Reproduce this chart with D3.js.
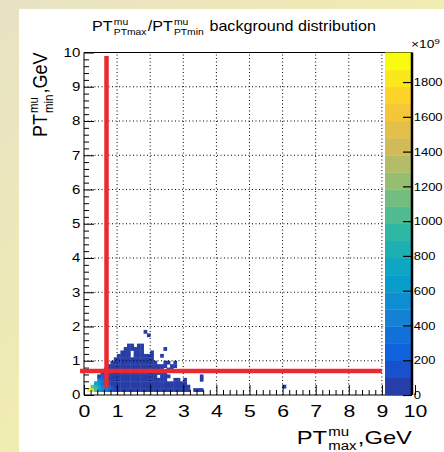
<!DOCTYPE html>
<html>
<head>
<meta charset="utf-8">
<script src="https://cdn.jsdelivr.net/npm/d3@7"></script>
<style>
  body { margin: 0; background: #fff; }
  svg { display: block; }
  text { font-family: "Liberation Sans", Arial, Helvetica, sans-serif; fill: #000; }
</style>
</head>
<body>
<svg id="chart" width="444" height="452"></svg>
<script>
// ---- data -------------------------------------------------------------
// pT bin width (GeV) on both axes
const binWidth = 0.1;
// axis tick values
const xTickValues = d3.range(0, 11);
const yTickValues = d3.range(0, 11);
const xMinorTicks = d3.range(0, 10.01, 0.2).filter(v => Math.abs(v - Math.round(v)) > 1e-6);
const yMinorTicks = xMinorTicks;
// colour scale (units of 10^9)
const zMax = 1970;
const zTickValues = d3.range(0, 1801, 200);
const nContours = 20;
// content of the sparsely filled tail cells (lowest contour)
const tailLevel = 25;
// filled cells: [pT_min bin, first pT_max bin, last pT_max bin]
const tailRuns = [
  [1, 1, 31], [1, 33, 35],
  [2, 2, 31], [2, 60, 60],
  [3, 3, 30],
  [4, 4, 24], [4, 27, 28], [4, 30, 30], [4, 35, 35],
  [5, 4, 21], [5, 23, 25], [5, 35, 35],
  [6, 5, 24],
  [7, 6, 23], [7, 25, 26],
  [8, 7, 24], [8, 26, 27],
  [9, 8, 21], [9, 24, 25], [9, 27, 27],
  [10, 9, 20],
  [11, 10, 13], [11, 15, 20], [11, 23, 23],
  [12, 11, 13], [12, 15, 17], [12, 20, 20],
  [13, 12, 17], [13, 24, 24],
  [14, 13, 14], [14, 16, 17],
  [17, 19, 19],
  [18, 18, 18]
];
// high-content cells near the origin: [pT_max bin, pT_min bin, content]
const peakCells = [
  [1, 1, 1970], [2, 1, 1750], [3, 1, 1050], [4, 1, 650], [5, 1, 420], [6, 1, 350], [7, 1, 200], [8, 1, 150],
  [2, 2, 1150], [3, 2, 950], [4, 2, 700], [5, 2, 450], [6, 2, 300], [7, 2, 200], [8, 2, 110],
  [3, 3, 750], [4, 3, 550], [5, 3, 350], [6, 3, 250], [7, 3, 150],
  [4, 4, 400], [5, 4, 300], [6, 4, 200],
  [5, 5, 200], [6, 5, 150]
];
// selection cuts (GeV)
const cutLines = [
  { x1: -0.12, y1: 0.70, x2: 9.0, y2: 0.70 },
  { x1: 0.68, y1: 0.23, x2: 0.68, y2: 9.9 }
];

// ---- kBird palette ----------------------------------------------------
const birdStops = [0.0, 0.125, 0.25, 0.375, 0.5, 0.625, 0.75, 0.875, 1.0];
const birdR = [0.2082, 0.0592, 0.0780, 0.0232, 0.1802, 0.5301, 0.8186, 0.9956, 0.9764];
const birdG = [0.1664, 0.3599, 0.5041, 0.6419, 0.7178, 0.7492, 0.7328, 0.7862, 0.9832];
const birdB = [0.5293, 0.8684, 0.8385, 0.7914, 0.6425, 0.4662, 0.3499, 0.1968, 0.0539];
function bird(t) {
  t = Math.max(0, Math.min(1, t));
  let s = 0;
  while (s < birdStops.length - 2 && t > birdStops[s + 1]) s++;
  const f = (t - birdStops[s]) / (birdStops[s + 1] - birdStops[s]);
  const c = arr => Math.round(255 * (arr[s] + f * (arr[s + 1] - arr[s])));
  return d3.rgb(c(birdR), c(birdG), c(birdB)).formatHex();
}
function bandColor(k) {
  const idx = Math.floor((k + 0.99) * 255 / nContours);
  return bird(idx / 254);
}
function contourColor(v) {
  const k = Math.min(nContours - 1, Math.floor(v / zMax * nContours));
  return bandColor(k);
}

// ---- layout -----------------------------------------------------------
const W = 444, H = 452;
const stretch = 1.25;          // glyphs are drawn horizontally widened
const frame = { left: 84, right: 415, top: 52.5, bottom: 395 };
const palette = { left: 385, right: 412 };

const svg = d3.select("#chart");
const defs = svg.append("defs");
const grad = defs.append("linearGradient").attr("id", "bg")
  .attr("x1", 0).attr("y1", 0).attr("x2", 1).attr("y2", 1);
grad.append("stop").attr("offset", 0).attr("stop-color", "#e8e2c4");
grad.append("stop").attr("offset", 1).attr("stop-color", "#f8f7a0");
svg.append("rect").attr("width", W).attr("height", H).attr("fill", "url(#bg)");
svg.append("rect").attr("x", 19).attr("y", 9).attr("width", W - 19).attr("height", H - 9).attr("fill", "#fff");

const x = d3.scaleLinear().domain([0, 10]).range([frame.left, frame.right]);
const y = d3.scaleLinear().domain([0, 10]).range([frame.bottom, frame.top]);
const z = d3.scaleLinear().domain([0, zMax]).range([frame.bottom, frame.top]);

// ---- histogram cells ---------------------------------------------------
const peakMap = new Map(peakCells.map(([i, j, v]) => [i + "," + j, v]));
const cells = [];
tailRuns.forEach(([j, a, b]) => {
  for (let i = a; i <= b; i++) {
    const key = i + "," + j;
    cells.push({ i, j, v: peakMap.has(key) ? peakMap.get(key) : tailLevel });
  }
});
svg.append("g").selectAll("rect").data(cells).join("rect")
  .attr("x", d => x(d.i * binWidth))
  .attr("y", d => y((d.j + 1) * binWidth))
  .attr("width", d => x((d.i + 1) * binWidth) - x(d.i * binWidth) + 0.4)
  .attr("height", d => y(d.j * binWidth) - y((d.j + 1) * binWidth) + 0.4)
  .attr("fill", d => contourColor(d.v));

// ---- grid ---------------------------------------------------------------
const grid = svg.append("g").attr("stroke", "#000").attr("stroke-width", 1)
  .attr("stroke-dasharray", "1 2.5");
grid.selectAll(".gx").data(xTickValues.slice(1, -1)).join("line")
  .attr("x1", d => x(d)).attr("x2", d => x(d))
  .attr("y1", frame.bottom).attr("y2", frame.top);
grid.selectAll(".gy").data(yTickValues.slice(1, -1)).join("line")
  .attr("y1", d => y(d)).attr("y2", d => y(d))
  .attr("x1", frame.left).attr("x2", palette.left);

// ---- axes ---------------------------------------------------------------
const xAxis = svg.append("g").attr("transform", `translate(0,${frame.bottom})`)
  .call(d3.axisBottom(x).tickValues(xTickValues).tickSize(-10).tickPadding(10).tickFormat(d3.format("d")));
const xMinor = svg.append("g").attr("transform", `translate(0,${frame.bottom})`)
  .call(d3.axisBottom(x).tickValues(xMinorTicks).tickSize(-5).tickFormat(""));
const yAxis = svg.append("g").attr("transform", `translate(${frame.left},0)`)
  .call(d3.axisLeft(y).tickValues(yTickValues).tickSize(-10).tickPadding(3).tickFormat(d3.format("d")));
const yMinor = svg.append("g").attr("transform", `translate(${frame.left},0)`)
  .call(d3.axisLeft(y).tickValues(yMinorTicks).tickSize(-5).tickFormat(""));
[xAxis, xMinor, yAxis, yMinor].forEach(g => g.select(".domain").remove());
xAxis.selectAll("text").style("font-size", "17px").attr("font-family", null)
  .attr("transform", `scale(${stretch},1)`);
yAxis.selectAll("text").style("font-size", "12px").attr("font-family", null)
  .attr("transform", `scale(${stretch},1)`);
svg.selectAll(".tick line").attr("stroke", "#000");

// frame
svg.append("path")
  .attr("d", `M${palette.right},${frame.top}H${frame.left}V${frame.bottom}H${palette.right}`)
  .attr("fill", "none").attr("stroke", "#000").attr("stroke-width", 1);

// ---- cut lines --------------------------------------------------------------
svg.append("g").selectAll("line").data(cutLines).join("line")
  .attr("x1", d => x(d.x1)).attr("y1", d => y(d.y1))
  .attr("x2", d => x(d.x2)).attr("y2", d => y(d.y2))
  .attr("stroke", "#ea2a30").attr("stroke-width", 4.5);

// ---- colour palette ---------------------------------------------------------
const bands = d3.range(nContours);
svg.append("g").selectAll("rect").data(bands).join("rect")
  .attr("x", palette.left).attr("width", palette.right - palette.left)
  .attr("y", k => z((k + 1) * zMax / nContours))
  .attr("height", k => z(k * zMax / nContours) - z((k + 1) * zMax / nContours) + 0.3)
  .attr("fill", k => bandColor(k));
const zAxis = svg.append("g").attr("transform", `translate(${palette.right},0)`)
  .call(d3.axisRight(z).tickValues(zTickValues).tickSize(-9).tickPadding(1.5).tickFormat(d3.format("d")));
zAxis.select(".domain").remove();
zAxis.selectAll(".tick line").attr("stroke", "#000").attr("stroke-width", 1.2);
zAxis.selectAll("text").style("font-size", "11.5px").attr("font-family", null)
  .attr("transform", "scale(1.13,1)");
svg.append("line").attr("x1", palette.right).attr("x2", palette.right)
  .attr("y1", frame.top).attr("y2", frame.bottom)
  .attr("stroke", "#000").attr("stroke-width", 2.5);
const expo = svg.append("text").attr("transform", `translate(${palette.right - 1},48) scale(${stretch},1)`)
  .style("font-size", "11px");
expo.append("tspan").text("×10");
expo.append("tspan").attr("dy", -4).style("font-size", "8px").text("9");

// ---- titles with super/subscripts ------------------------------------------
function richText(parent, parts, size, subSize) {
  const g = parent.append("g");
  let cx = 0;
  parts.forEach(p => {
    if (p.text !== undefined) {
      const t = g.append("text").attr("x", cx).attr("y", 0)
        .style("font-size", size + "px").style("white-space", "pre").text(p.text);
      cx += t.node().getComputedTextLength();
    } else {
      const a = g.append("text").attr("x", cx + 1).attr("y", -size * 0.42)
        .style("font-size", subSize + "px").text(p.sup);
      const b = g.append("text").attr("x", cx + 1).attr("y", size * 0.3)
        .style("font-size", subSize + "px").text(p.sub);
      cx += 2 + Math.max(a.node().getComputedTextLength(), b.node().getComputedTextLength());
    }
  });
  return { g, width: cx };
}

const title = richText(svg, [
  { text: "PT" }, { sup: "mu", sub: "PTmax" }, { text: "/PT" }, { sup: "mu", sub: "PTmin" },
  { text: " background distribution" }
], 14, 9);
title.g.attr("transform", `translate(${234 - title.width * 1.15 / 2},31) scale(1.15,1)`);

const xTitle = richText(svg, [{ text: "PT" }, { sup: "mu", sub: "max" }, { text: ",GeV" }], 19, 12);
xTitle.g.attr("transform", `translate(${palette.right - xTitle.width * stretch},444) scale(${stretch},1)`);

const yTitle = richText(svg, [{ text: "PT" }, { sup: "mu", sub: "min" }, { text: ",GeV" }], 18, 11.5);
yTitle.g.attr("transform", `translate(47,${frame.top + yTitle.width}) scale(1.15,1) rotate(-90)`);
</script>
</body>
</html>
